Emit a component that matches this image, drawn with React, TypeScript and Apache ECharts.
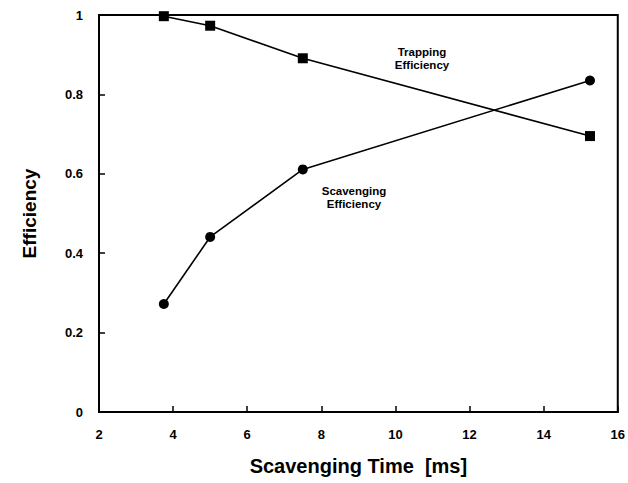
import React, { useEffect, useRef } from "react";
import * as echarts from "echarts";

const scavTime = [3.75, 5, 7.5, 15.25];
const trappingEff = [0.997, 0.973, 0.891, 0.695];
const scavengingEff = [0.272, 0.441, 0.611, 0.835];
const xTicks = [2, 4, 6, 8, 10, 12, 14, 16];
const yTicks = [0, 0.2, 0.4, 0.6, 0.8, 1];

const FONT = "Liberation Sans, Arial, sans-serif";
const INK = "black";

export default function App() {
  const ref = useRef<HTMLDivElement>(null);
  useEffect(() => {
    const chart = echarts.init(ref.current!, null, { renderer: "svg" });
    chart.setOption({
      animation: false,
      backgroundColor: "#fff",
      grid: {
        left: 99,
        right: 10,
        top: 15,
        bottom: 71,
        show: true,
        borderColor: INK,
        borderWidth: 2,
      },
      xAxis: [
        {
          type: "value",
          min: xTicks[0],
          max: xTicks[xTicks.length - 1],
          interval: 2,
          axisLine: { show: true, onZero: false, lineStyle: { color: INK, width: 2 } },
          axisTick: { show: true, inside: true, length: 6, lineStyle: { color: INK, width: 1.5 } },
          splitLine: { show: false },
          axisLabel: { color: INK, fontFamily: FONT, fontWeight: "bold", fontSize: 13, margin: 16 },
          name: "Scavenging Time  [ms]",
          nameLocation: "middle",
          nameGap: 44,
          nameTextStyle: { color: INK, fontFamily: FONT, fontWeight: "bold", fontSize: 20 },
        },
      ],
      yAxis: [
        {
          type: "value",
          min: yTicks[0],
          max: yTicks[yTicks.length - 1],
          interval: 0.2,
          axisLine: { show: true, onZero: false, lineStyle: { color: INK, width: 2 } },
          axisTick: { show: true, inside: true, length: 6, lineStyle: { color: INK, width: 1.5 } },
          splitLine: { show: false },
          axisLabel: { color: INK, fontFamily: FONT, fontWeight: "bold", fontSize: 13, margin: 16 },
          name: "Efficiency",
          nameLocation: "middle",
          nameGap: 60,
          nameTextStyle: { color: INK, fontFamily: FONT, fontWeight: "bold", fontSize: 19 },
        },
      ],
      series: [
        {
          name: "Trapping Efficiency",
          type: "line",
          data: scavTime.map((x, i) => [x, trappingEff[i]]),
          symbol: "rect",
          symbolSize: 10,
          lineStyle: { color: INK, width: 1.6 },
          itemStyle: { color: INK },
        },
        {
          name: "Scavenging Efficiency",
          type: "line",
          data: scavTime.map((x, i) => [x, scavengingEff[i]]),
          symbol: "circle",
          symbolSize: 10,
          lineStyle: { color: INK, width: 1.6 },
          itemStyle: { color: INK },
        },
      ],
      graphic: [
        {
          type: "text",
          x: 422,
          y: 58,
          style: {
            text: "Trapping\nEfficiency",
            fill: INK,
            font: `bold 11.5px ${FONT}`,
            align: "center",
            verticalAlign: "middle",
            lineHeight: 13,
          },
        },
        {
          type: "text",
          x: 354,
          y: 197,
          style: {
            text: "Scavenging\nEfficiency",
            fill: INK,
            font: `bold 11.5px ${FONT}`,
            align: "center",
            verticalAlign: "middle",
            lineHeight: 13,
          },
        },
      ],
    });
    return () => chart.dispose();
  }, []);
  return <div ref={ref} style={{ width: 628, height: 483, position: "absolute", left: 0, top: 0 }} />;
}
